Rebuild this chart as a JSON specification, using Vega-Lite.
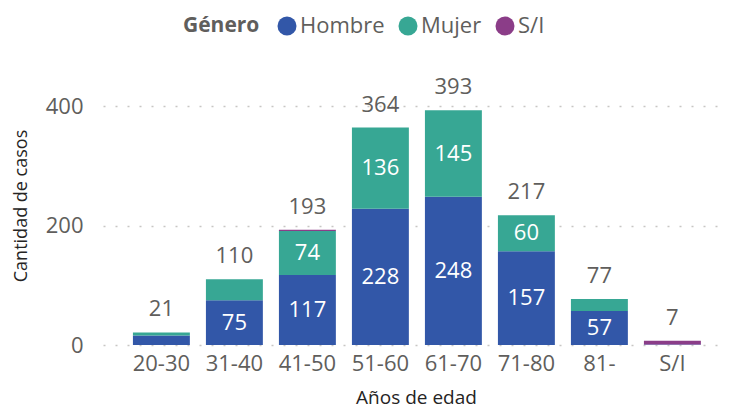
{
  "$schema": "https://vega.github.io/schema/vega-lite/v6.json",
  "width": 617,
  "height": 279,
  "autosize": {"type": "none"},
  "padding": {"left": 103, "top": 66, "right": 11, "bottom": 65},
  "config": {
    "font": "Open Sans",
    "view": {"stroke": null},
    "axis": {"labelFont": "Open Sans", "titleFont": "Open Sans"}
  },
  "data": {
    "values": [
      {"edad": "20-30", "genero": "Hombre", "casos": 16},
      {"edad": "20-30", "genero": "Mujer", "casos": 5},
      {"edad": "31-40", "genero": "Hombre", "casos": 75},
      {"edad": "31-40", "genero": "Mujer", "casos": 35},
      {"edad": "41-50", "genero": "Hombre", "casos": 117},
      {"edad": "41-50", "genero": "Mujer", "casos": 74},
      {"edad": "41-50", "genero": "S/I", "casos": 2},
      {"edad": "51-60", "genero": "Hombre", "casos": 228},
      {"edad": "51-60", "genero": "Mujer", "casos": 136},
      {"edad": "61-70", "genero": "Hombre", "casos": 248},
      {"edad": "61-70", "genero": "Mujer", "casos": 145},
      {"edad": "71-80", "genero": "Hombre", "casos": 157},
      {"edad": "71-80", "genero": "Mujer", "casos": 60},
      {"edad": "81-", "genero": "Hombre", "casos": 57},
      {"edad": "81-", "genero": "Mujer", "casos": 20},
      {"edad": "S/I", "genero": "Hombre", "casos": 1},
      {"edad": "S/I", "genero": "S/I", "casos": 6}
    ]
  },
  "encoding": {
    "x": {
      "field": "edad",
      "type": "nominal",
      "sort": ["20-30", "31-40", "41-50", "51-60", "61-70", "71-80", "81-", "S/I"],
      "scale": {"paddingInner": 0.22, "paddingOuter": 0.336, "align": 0.61},
      "axis": {
        "title": "Años de edad",
        "titleFontSize": 19,
        "titleFontWeight": 500,
        "titleColor": "#252423",
        "titlePadding": 14,
        "titleX": 313,
        "labelAngle": 0,
        "labelFontSize": 22,
        "labelColor": "#605E5C",
        "labelPadding": 8,
        "domain": false,
        "ticks": false
      }
    }
  },
  "layer": [
    {
      "mark": {"type": "bar"},
      "encoding": {
        "y": {
          "aggregate": "sum",
          "field": "casos",
          "type": "quantitative",
          "stack": "zero",
          "scale": {"domain": [0, 467], "nice": false},
          "axis": {
            "title": "Cantidad de casos",
            "titleFontSize": 18,
            "titleFontWeight": 500,
            "titleColor": "#252423",
            "titlePadding": 15,
            "values": [0, 200, 400],
            "labelFontSize": 22,
            "labelColor": "#605E5C",
            "labelPadding": 20,
            "domain": false,
            "ticks": false,
            "grid": true,
            "gridDash": [2, 10],
            "gridWidth": 1.5,
            "gridColor": "#C8C6C4"
          }
        },
        "color": {
          "field": "genero",
          "type": "nominal",
          "scale": {"domain": ["Hombre", "Mujer", "S/I"], "range": ["#3257A8", "#37A794", "#8B3D88"]},
          "legend": {
            "title": "Género",
            "orient": "none",
            "legendX": 80,
            "legendY": -51,
            "direction": "horizontal",
            "titleOrient": "left",
            "titleFontSize": 21,
            "titleFontWeight": "bold",
            "titleColor": "#605E5C",
            "titlePadding": 16,
            "labelFontSize": 22,
            "labelColor": "#605E5C",
            "labelOffset": 2,
            "symbolType": "circle",
            "symbolSize": 361,
            "symbolStrokeWidth": 0,
            "columnPadding": 12
          }
        },
        "order": {"field": "genero", "sort": "ascending"}
      }
    },
    {
      "transform": [
        {"window": [{"op": "sum", "field": "casos", "as": "cum"}], "groupby": ["edad"], "sort": [{"field": "genero", "order": "ascending"}], "frame": [null, 0]},
        {"calculate": "datum.cum - datum.casos / 2", "as": "mid"},
        {"filter": "datum.casos >= 50"}
      ],
      "mark": {"type": "text", "color": "white", "fontSize": 22, "baseline": "middle"},
      "encoding": {
        "y": {"field": "mid", "type": "quantitative"},
        "text": {"field": "casos", "type": "quantitative"}
      }
    },
    {
      "transform": [
        {"aggregate": [{"op": "sum", "field": "casos", "as": "total"}], "groupby": ["edad"]}
      ],
      "mark": {"type": "text", "color": "#605E5C", "fontSize": 22, "baseline": "alphabetic", "dy": -16},
      "encoding": {
        "y": {"field": "total", "type": "quantitative"},
        "text": {"field": "total", "type": "quantitative"}
      }
    }
  ]
}
